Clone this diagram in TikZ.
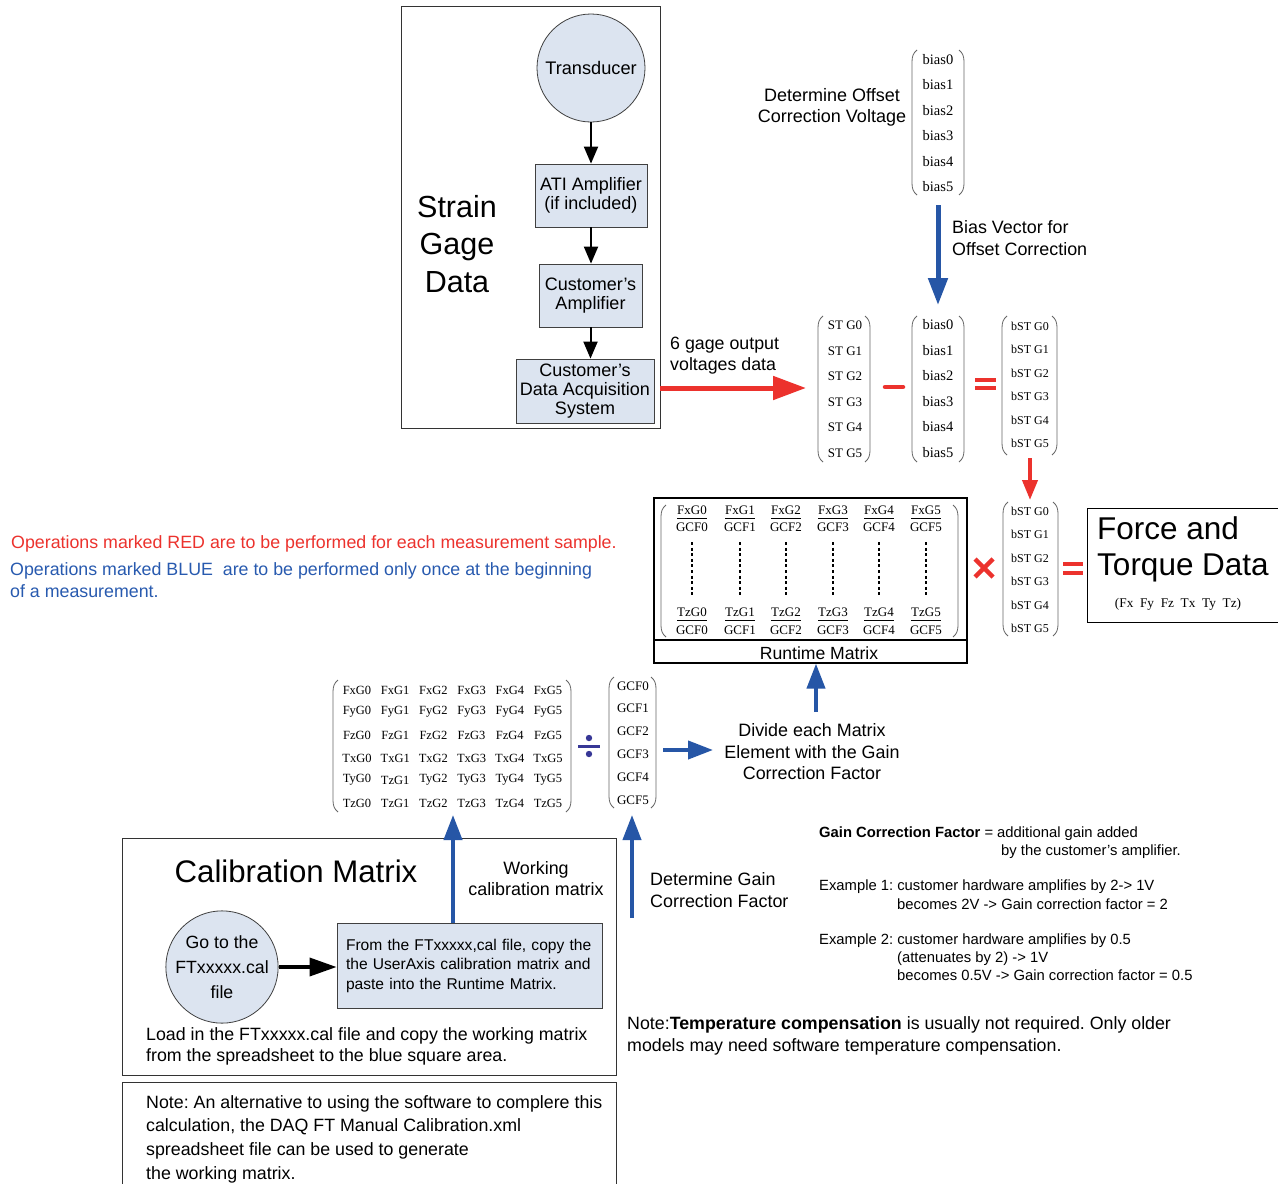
\documentclass[tikz,border=0pt]{standalone}
\usepackage{fontspec}
\setmainfont{Liberation Sans}
\newfontfamily\tms{Liberation Serif}
\usetikzlibrary{arrows.meta}
\frenchspacing
\definecolor{opred}{RGB}{236,50,45}
\definecolor{opblue}{RGB}{38,86,166}
\definecolor{txtblue}{RGB}{40,90,175}
\definecolor{boxfill}{RGB}{220,228,240}
\definecolor{divblue}{RGB}{55,55,150}
\newcommand\myfs[2]{\fontsize{#1}{#2}\selectfont}
\newcommand\vparen[4]{%
  \draw[parsty] (#1+5,#3) .. controls (#1+1,#3+3) and (#1,#3+7) .. (#1,#3+12) -- (#1,#4-12) .. controls (#1,#4-7) and (#1+1,#4-3) .. (#1+5,#4);
  \draw[parsty] (#2-5,#3) .. controls (#2-1,#3+3) and (#2,#3+7) .. (#2,#3+12) -- (#2,#4-12) .. controls (#2,#4-7) and (#2-1,#4-3) .. (#2-5,#4);}
\begin{document}
\begin{tikzpicture}[x=1pt,y=-1pt,
  parsty/.style={draw=black!60, line width=0.8pt},
  tm/.style={font={\tms\fontsize{#1}{#1}\selectfont}, inner sep=0},
  proc/.style={draw=black!75, fill=boxfill, line width=0.8pt, align=center, inner sep=0, font=\myfs{18}{19}},
  circ/.style={circle, draw=black!75, fill=boxfill, line width=0.8pt, align=center, inner sep=0},
  plain/.style={draw=black!80, line width=0.8pt, inner sep=0},
  lt/.style={inner sep=0, anchor=west},
  blk/.style={line width=2pt, -{Triangle[width=14pt,length=17pt]}},
  blk2/.style={line width=3.5pt, -{Triangle[width=18pt,length=27pt]}},
  redarr/.style={draw=opred, line width=5pt, -{Triangle[width=23pt,length=33pt]}},
  redarr2/.style={draw=opred, line width=4pt, -{Triangle[width=15pt,length=20pt]}},
  bluearr/.style={draw=opblue, line width=5pt, -{Triangle[width=19pt,length=27pt]}},
  bluearr2/.style={draw=opblue, line width=4pt, -{Triangle[width=18pt,length=25pt]}},
  redop/.style={draw=opred, line width=4.5pt}
]
\useasboundingbox (0,0) rectangle (1278,1184);
\fill[white] (0,0) rectangle (1278,1184);
\path[clip] (0,0) rectangle (1278,1184);

% ---------- Strain gage data block ----------
\node[plain, minimum width=259, minimum height=422] (sgbox) at (530.5,217) {};
\node[inner sep=0, align=center, font=\myfs{30.5}{37.5}] (sgtxt) at (457,244) {Strain\\Gage\\Data};
\node[circ, minimum size=108, font=\myfs{18.2}{19}] (trans) at (591,68) {Transducer};
\node[proc, minimum width=112, minimum height=63] (ati) at (591,195.5) {ATI Amplifier\\(if included)};
\node[proc, minimum width=103, minimum height=63] (camp) at (590.5,295.5) {Customer's\\Amplifier};
\node[proc, minimum width=138, minimum height=64] (daq) at (585,391) {Customer's\\Data Acquisition\\System};
\draw[blk] (trans.south) -- (ati.north);
\draw[blk] (ati.south) -- (ati.south |- camp.north);
\draw[blk] (camp.south) -- (camp.south |- daq.north);

% ---------- red arrow into ST vector ----------
\coordinate (stin) at (806,388);
\draw[redarr] (sgbox.east |- stin) -- (stin);
\node[inner sep=0, align=left, font=\myfs{17.8}{21}, anchor=north west] (gagetxt) at (670,337) {6 gage output\\voltages data};

% ---------- top bias vector ----------
\node[inner sep=0, align=center, font=\myfs{18}{21}] (offtxt) at (832,107.5) {Determine Offset\\Correction Voltage};
\vparen{912}{964}{50}{195}
\foreach \i/\y in {0/60,1/85,2/111,3/136,4/162,5/187}
  \node[tm=14.5] (tb\i) at (938,\y) {bias\i};
\coordinate (tbbot) at (938,205);
\coordinate (mbtop) at (938,305);
\draw[bluearr] (tbbot) -- (mbtop);
\node[inner sep=0, align=left, font=\myfs{17.9}{22}, anchor=west] (biastxt) at (952,238) {Bias Vector for\\Offset Correction};

% ---------- ST - bias = bST ----------
\vparen{818}{870}{316}{462}
\foreach \i/\y in {0/325,1/351,2/376,3/402,4/427,5/453}
  \node[tm=13] (st\i) at (845,\y) {ST G\i};
\draw[redop, line cap=round] (885,387) -- (903,387);
\vparen{912}{964}{316}{462}
\foreach \i/\y in {0/325,1/351,2/376,3/402,4/427,5/453}
  \node[tm=14.5] (mb\i) at (938,\y) {bias\i};
\draw[draw=opred, line width=4pt] (975,380) -- (996,380) (975,388) -- (996,388);
\vparen{1002}{1057}{316}{455}
\foreach \i/\y in {0/326,1/349,2/373,3/396,4/420,5/443}
  \node[tm=12] (bs\i) at (1030,\y) {bST G\i};
\coordinate (bsbot) at (1030,458);
\coordinate (bs2top) at (1030,500);
\draw[redarr2] (bsbot) -- (bs2top);

% ---------- Runtime matrix ----------
\node[draw, line width=1.2pt, inner sep=0, minimum width=313, minimum height=165] (rtbox) at (810.5,580.5) {};
\draw[line width=1.2pt] (654,640) -- (967,640);
\node[inner sep=0, font=\myfs{17.6}{19}] (rtlabel) at (819,653) {Runtime Matrix};
\vparen{661}{958}{505}{637}
\foreach \c [count=\i from 0] in {692,740,786,833,879,926} {
  \node[tm=13] (rfx\i) at (\c,510) {FxG\i};
  \draw[line width=0.7pt] (\c-15,518.5) -- (\c+15,518.5);
  \node[tm=13] (rga\i) at (\c,527.5) {GCF\i};
  \draw[line width=2.2pt, dash pattern=on 3pt off 2.6pt] (\c,542) -- (\c,597);
  \node[tm=13] (rtz\i) at (\c,612) {TzG\i};
  \draw[line width=0.7pt] (\c-15,620.5) -- (\c+15,620.5);
  \node[tm=13] (rgb\i) at (\c,630) {GCF\i};
}
\draw[redop] (975,559) -- (993,577) (975,577) -- (993,559);
\vparen{1003}{1058}{502}{636}
\foreach \i/\y in {0/511,1/534,2/558,3/581,4/605,5/628}
  \node[tm=12] (bt\i) at (1030,\y) {bST G\i};
\draw[draw=opred, line width=4pt] (1063,564) -- (1083,564) (1063,573) -- (1083,573);
\node[draw, line width=1pt, inner sep=0, anchor=north west, minimum width=220, minimum height=114] (ftbox) at (1087,508) {};
\node[inner sep=0, align=left, anchor=west, font=\myfs{31.5}{36}] (fttxt) at (1097,549) {Force and\\Torque Data};
\node[tm=13.3] (ftsub) at (1178,604) {(Fx\ \ Fy\ \ Fz\ \ Tx\ \ Ty\ \ Tz)};

% ---------- legend ----------
\node[lt, text=opred, font=\myfs{17.8}{22}] (legred) at (11,543.5) {Operations marked RED are to be performed for each measurement sample.};
\node[inner sep=0, anchor=north west, align=left, text=txtblue, font=\myfs{17.8}{22}] (legblue) at (10,562.5) {Operations marked BLUE\ \ are to be performed only once at the beginning\\of a measurement.};

% ---------- calibration matrix / GCF ----------
\vparen{333}{571}{680}{812}
\foreach \row/\yy [count=\ri] in {{FxG0,FxG1,FxG2,FxG3,FxG4,FxG5}/690,{FyG0,FyG1,FyG2,FyG3,FyG4,FyG5}/712,{FzG0,FzG1,FzG2,FzG3,FzG4,FzG5}/735,{TxG0,TxG1,TxG2,TxG3,TxG4,TxG5}/758,{TyG0,TzG1,TyG2,TyG3,TyG4,TyG5}/780,{TzG0,TzG1,TzG2,TzG3,TzG4,TzG5}/803} {
  \foreach \e [count=\ci] in \row
    \node[tm=12.5] (cm\ri-\ci) at ({357+(\ci-1)*38.2},\yy) {\e};
}
\fill[divblue] (589,738) circle (3.2) (589,754) circle (3.2);
\draw[divblue, line width=3pt] (578,746) -- (600,746);
\vparen{609}{656}{677}{808}
\foreach \i/\y in {0/686,1/708,2/731,3/754,4/777,5/800}
  \node[tm=13] (gcf\i) at (633,\y) {GCF\i};
\coordinate (gcfout) at (663,750);
\coordinate (divin) at (713,750);
\node[inner sep=0, align=center, font=\myfs{17.9}{21.5}] (divtxt) at (812,752) {Divide each Matrix\\Element with the Gain\\Correction Factor};
\draw[bluearr2] (gcfout) -- (divin);
\coordinate (divtop) at (816,712);
\draw[bluearr2] (divtop) -- (divtop |- rtbox.south);
\coordinate (gcfbot) at (632,815);
\coordinate (gcfsrc) at (632,918);
\draw[bluearr2] (gcfsrc) -- (gcfbot);
\node[inner sep=0, align=left, anchor=west, font=\myfs{17.9}{22}] (dgtxt) at (650,890) {Determine Gain\\Correction Factor};

% ---------- calibration box ----------
\node[plain, anchor=north west, minimum width=494, minimum height=237] (calbox) at (122,838) {};
\node[inner sep=0, font=\myfs{31.2}{34}] (caltitle) at (296,871) {Calibration Matrix};
\node[inner sep=0, align=center, font=\myfs{17.9}{21}] (worktxt) at (536,879) {Working\\calibration matrix};
\node[circ, minimum size=98, font=\myfs{17.7}{25}] (goto) at (222,967) {Go to the\\FTxxxxx.cal\\file};
\node[proc, minimum width=265, minimum height=85, align=left, text width=247, font=\myfs{15.6}{19.5}] (from) at (469.5,965.5) {From the FTxxxxx,cal file, copy the\\the UserAxis calibration matrix and\\paste into the Runtime Matrix.};
\draw[blk2] (goto.east) -- (goto.east -| from.west);
\coordinate (cmbot) at (453,815);
\draw[bluearr2] (from.north -| cmbot) -- (cmbot);
\node[inner sep=0, align=left, anchor=west, font=\myfs{17.8}{21}] (loadtxt) at (146,1046.5) {Load in the FTxxxxx.cal file and copy the working matrix\\from the spreadsheet to the blue square area.};

% ---------- note box ----------
\node[plain, anchor=north west, minimum width=494, minimum height=120] (notebox) at (122,1082) {};
\node[inner sep=0, align=left, anchor=north west, font=\myfs{17.8}{23.7}] (notetxt) at (146,1095) {Note: An alternative to using the software to complere this\\calculation, the DAQ FT Manual Calibration.xml\\spreadsheet file can be used to generate\\the working matrix.};

% ---------- right texts ----------
\node[lt, font=\myfs{14.8}{17}] (gcf1) at (819,833.5) {\textbf{Gain Correction Factor} = additional gain added};
\node[lt, font=\myfs{14.8}{17}] (gcf2) at (1001,851.5) {by the customer's amplifier.};
\node[lt, font=\myfs{14.8}{17}] (ex1a) at (819,886.5) {Example 1: customer hardware amplifies by 2-> 1V};
\node[lt, font=\myfs{14.8}{17}] (ex1b) at (897,904.5) {becomes 2V -> Gain correction factor = 2};
\node[lt, font=\myfs{14.8}{17}] (ex2a) at (819,940.5) {Example 2: customer hardware amplifies by 0.5};
\node[lt, font=\myfs{14.8}{17}] (ex2b) at (897,958.5) {(attenuates by 2) -> 1V};
\node[lt, font=\myfs{14.8}{17}] (ex2c) at (897,975.5) {becomes 0.5V -> Gain correction factor = 0.5};
\node[inner sep=0, align=left, anchor=west, font=\myfs{17.8}{22}] (temptxt) at (627,1035.5) {Note:\textbf{Temperature compensation} is usually not required. Only older\\models may need software temperature compensation.};
\end{tikzpicture}
\end{document}
